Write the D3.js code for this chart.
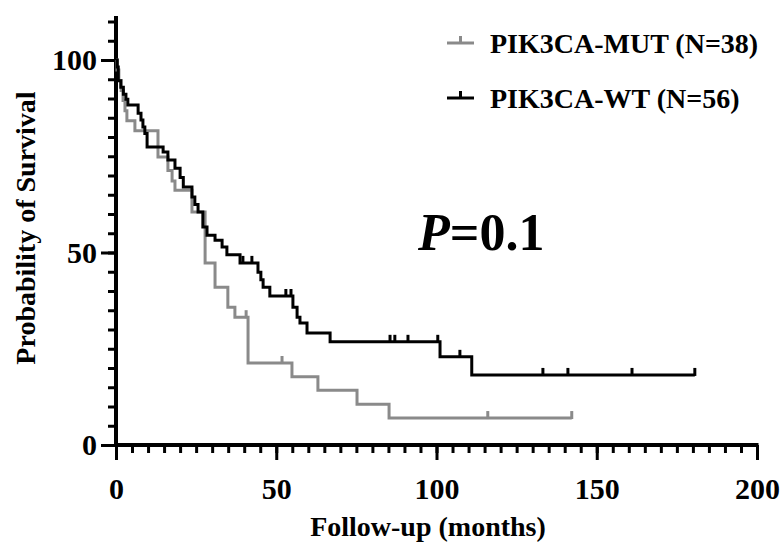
<!DOCTYPE html>
<html><head><meta charset="utf-8">
<script src="https://cdn.jsdelivr.net/npm/d3@7/dist/d3.min.js"></script>
<style>
body{margin:0;background:#fff;}
svg{display:block;font-family:"Liberation Serif","Times New Roman",serif;font-weight:bold;}
</style></head>
<body><svg id="c" width="780" height="551"></svg>
<script>
// Kaplan-Meier step data [months, survival %]
const wtSteps = [[0,100],[0.4,98.2],[0.7,94.6],[1.5,92.9],[2.3,91.1],[3.1,89.8],[3.7,88.3],
  [6.9,86.2],[7.8,84.4],[8.4,82.6],[9.0,80.9],[9.7,77.4],
  [14.7,76.1],[16.2,74.0],[18.4,71.9],[20.0,69.5],[21.0,67.0],[23.7,64.4],
  [24.6,62.5],[25.6,60.5],[27.1,56.6],[28.4,54.5],[30.9,53.2],[33.1,51.4],[34.6,49.4],[38.7,47.3],
  [44.3,44.9],[45.2,42.9],[45.9,41.0],[48.0,38.7],
  [55.2,35.8],[56.5,33.2],[57.4,31.7],[59.6,29.1],[66.8,26.8],
  [101.1,22.9],[111.0,18.2]];
const wtCensor = [39.6,42.4,53.0,54.6,85.5,87.0,91.1,100.4,107.3,133.2,141.0,161.0,180.6];
const mutSteps = [[0,100],[0.3,97.4],[0.9,94.7],[1.6,92.1],[2.2,89.5],[2.8,86.8],[3.4,84.2],
  [5.9,81.6],[13.1,74.8],[16.2,71.3],[17.5,68.6],[18.4,66.2],[23.7,60.5],[27.8,47.3],
  [30.9,41.0],[34.9,35.8],[37.1,33.2],[41.2,21.3],[54.9,17.7],[63.0,14.2],[75.2,10.6],[85.2,7.0]];
const mutCensor = [40.6,51.8,116.0,142.2];
const seriesNames = ["PIK3CA-MUT (N=38)","PIK3CA-WT (N=56)"];
const xMajor = [0,50,100,150,200];
const yMajor = [0,50,100];
const pText = "0.1";

const svg = d3.select("#c");
const x = d3.scaleLinear().domain([0,200]).range([116,757]);
const y = d3.scaleLinear().domain([0,110]).range([445,21.5]);
const xMinor = d3.range(0,201,5);
const yMinor = d3.range(0,111,5);

function survAt(steps,t){let v=steps[0][1];for(const s of steps){if(s[0]<=t)v=s[1];}return v;}

// axes
const gx = svg.append("g").attr("transform","translate(0,445)");
gx.call(d3.axisBottom(x).tickValues(xMinor).tickSize(8).tickFormat(""));
gx.append("g").call(d3.axisBottom(x).tickValues(xMajor).tickSize(15).tickPadding(18));
gx.selectAll(".domain").remove();
gx.selectAll("line").attr("stroke","#000").attr("stroke-width",3);
gx.selectAll("text").attr("fill","#000").attr("font-size",30).attr("font-family","Liberation Serif").attr("font-weight","bold");

const gy = svg.append("g").attr("transform","translate(116,0)");
gy.call(d3.axisLeft(y).tickValues(yMinor).tickSize(8).tickFormat(""));
gy.append("g").call(d3.axisLeft(y).tickValues(yMajor).tickSize(15).tickPadding(4));
gy.selectAll(".domain").remove();
gy.selectAll("line").attr("stroke","#000").attr("stroke-width",3);
gy.selectAll("text").attr("fill","#000").attr("font-size",30).attr("font-family","Liberation Serif").attr("font-weight","bold").attr("dy","0.33em");

svg.append("line").attr("x1",x(0)-2).attr("x2",x(200)+1.5).attr("y1",445).attr("y2",445).attr("stroke","#000").attr("stroke-width",4);
svg.append("line").attr("x1",116).attr("x2",116).attr("y1",447).attr("y2",16).attr("stroke","#000").attr("stroke-width",4);

// curves
const line = d3.line().x(d=>x(d[0])).y(d=>y(d[1])).curve(d3.curveStepAfter);
function drawKM(steps,censor,color){
  const end = d3.max(censor);
  const pts = steps.concat([[end,steps[steps.length-1][1]]]);
  svg.append("path").attr("d",line(pts)).attr("fill","none").attr("stroke",color).attr("stroke-width",3);
  svg.append("g").selectAll("line").data(censor).join("line")
    .attr("x1",d=>x(d)).attr("x2",d=>x(d))
    .attr("y1",d=>y(survAt(steps,d))+1).attr("y2",d=>y(survAt(steps,d))-7)
    .attr("stroke",color).attr("stroke-width",3);
}
drawKM(mutSteps,mutCensor,"#8a8a8a");
drawKM(wtSteps,wtCensor,"#000");

// legend
const legColors = ["#8a8a8a","#000"];
const legY = [43,98];
seriesNames.forEach((n,i)=>{
  const g = svg.append("g");
  g.append("line").attr("x1",447).attr("x2",474).attr("y1",legY[i]).attr("y2",legY[i]).attr("stroke",legColors[i]).attr("stroke-width",3);
  g.append("line").attr("x1",460.5).attr("x2",460.5).attr("y1",legY[i]).attr("y2",legY[i]-7).attr("stroke",legColors[i]).attr("stroke-width",3);
  g.append("text").attr("x",490).attr("y",legY[i]+10).attr("font-size",28).attr("fill","#000").text(n);
});

// p-value
const pt = svg.append("text").attr("x",418).attr("y",250).attr("font-size",52).attr("fill","#000");
pt.append("tspan").attr("font-style","italic").text("P");
pt.append("tspan").text("="+pText);

// axis titles
svg.append("text").attr("x",428).attr("y",536).attr("text-anchor","middle").attr("font-size",28).attr("fill","#000").text("Follow-up (months)");
svg.append("text").attr("transform","translate(35,228) rotate(-90)").attr("text-anchor","middle").attr("font-size",28).attr("fill","#000").text("Probability of Survival");
</script></body></html>
